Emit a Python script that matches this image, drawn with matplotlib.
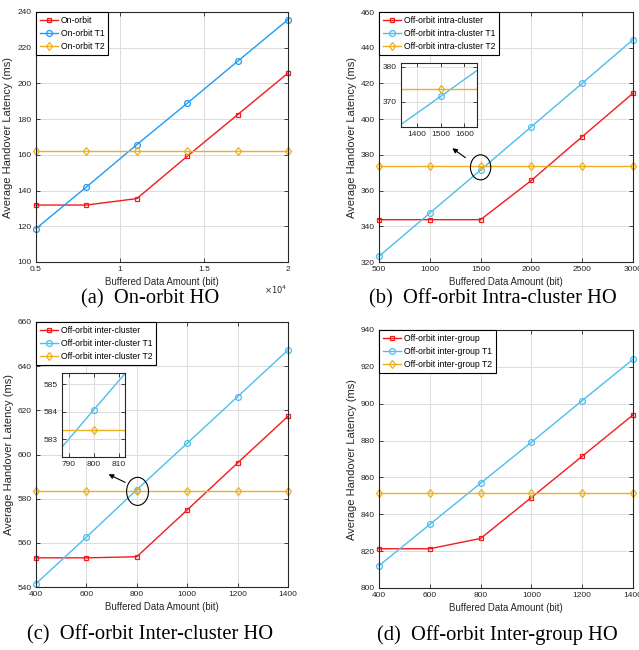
import matplotlib.pyplot as plt
from matplotlib.patches import Ellipse

plt.rcParams['font.family'] = ['Liberation Sans', 'DejaVu Sans']
plt.rcParams['axes.linewidth'] = 0.8

# ---- data ----
x_a = [5000, 8000, 11000, 14000, 17000, 20000]
on_orbit = [131.9, 131.9, 135.5, 159.2, 182.5, 205.8]
on_orbit_t1 = [118.7, 142.0, 165.7, 188.9, 212.4, 235.7]
on_orbit_t2 = [161.9] * 6

x_b = [500, 1000, 1500, 2000, 2500, 3000]
intra = [343.7, 343.7, 343.7, 365.7, 390.2, 414.5]
intra_t1 = [323.2, 347.4, 371.5, 395.8, 420.1, 444.5]
intra_t2 = [373.7] * 6

x_c = [400, 600, 800, 1000, 1200, 1400]
inter_cluster = [553.2, 553.2, 553.7, 574.9, 596.2, 617.3]
inter_cluster_t1 = [541.5, 562.6, 584.06, 605.1, 626.2, 647.3]
inter_cluster_t2 = [583.34] * 6

x_d = [400, 600, 800, 1000, 1200, 1400]
inter_group = [821.3, 821.3, 826.9, 849.1, 871.5, 893.9]
inter_group_t1 = [812.1, 834.5, 856.9, 879.1, 901.7, 924.1]
inter_group_t2 = [851.3] * 6

RED = '#f51a1a'
BLUE_A = '#1e9cf5'
BLUE = '#4dbeee'
YEL = '#edb120'
W, H = 639, 650
TICK_FS = 6.0


def px_axes(fig, left, top, right, bottom):
    return fig.add_axes([left / W, 1 - bottom / H, (right - left) / W, (bottom - top) / H])


def style(ax):
    ax.grid(True, color='#dcdcdc', linewidth=0.7)
    ax.set_axisbelow(True)
    ax.tick_params(direction='in', top=True, right=True, labelsize=TICK_FS,
                   colors='#262626', length=3, width=0.6, pad=3)
    for s in ax.spines.values():
        s.set_color('#262626')


def series(ax, x, y, color, marker, label=None, clip=True):
    ms = {'s': 3.4, 'o': 4.2, 'd': 4.4}[marker]
    ax.plot(x, y, color=color, marker=marker, ms=ms, mfc='none', mew=0.9, lw=1.0,
            label=label, clip_on=clip)


def draw(ax, x, ys, labels, blue):
    series(ax, x, ys[0], RED, 's', labels[0], clip=False)
    series(ax, x, ys[1], blue, 'o', labels[1], clip=False)
    series(ax, x, ys[2], YEL, 'd', labels[2], clip=False)
    leg = ax.legend(loc='upper left', fontsize=6.2, fancybox=False, framealpha=1,
                    edgecolor='black', borderaxespad=0, handlelength=2.1,
                    borderpad=0.45, labelspacing=0.45, handletextpad=0.3)
    leg.get_frame().set_linewidth(0.8)
    ax.set_xlabel('Buffered Data Amount (bit)', fontsize=6.9, color='#262626', labelpad=3)
    ax.set_ylabel('Average Handover Latency (ms)', fontsize=8.0, color='#262626', labelpad=3)


fig = plt.figure(figsize=(6.39, 6.5), dpi=100)

# (a)
ax = px_axes(fig, 36, 12, 288, 262)
draw(ax, x_a, [on_orbit, on_orbit_t1, on_orbit_t2], ['On-orbit', 'On-orbit T1', 'On-orbit T2'], BLUE_A)
ax.set_xlim(5000, 20000)
ax.set_ylim(100, 240)
ax.set_xticks([5000, 10000, 15000, 20000])
ax.set_xticklabels(['0.5', '1', '1.5', '2'])
ax.set_yticks(range(100, 241, 20))
style(ax)
ax.text(0.995, -0.085, r'$\times10^4$', transform=ax.transAxes, ha='right', va='top',
        fontsize=6.0, color='#262626')

# (b)
ax = px_axes(fig, 379, 12, 633, 262)
draw(ax, x_b, [intra, intra_t1, intra_t2],
     ['Off-orbit intra-cluster', 'Off-orbit intra-cluster T1', 'Off-orbit intra-cluster T2'], BLUE)
ax.set_xlim(500, 3000)
ax.set_ylim(320, 460)
ax.set_yticks(range(320, 461, 20))
style(ax)
ax.add_patch(Ellipse((1500, 373), 200, 14, fill=False, ec='black', lw=0.8, zorder=5))
ax.annotate('', xy=(1199, 384.6), xytext=(1373, 377.5),
            arrowprops=dict(arrowstyle='-|>', color='black', lw=0.8, mutation_scale=7))
ins = px_axes(fig, 401, 63, 477, 127)
series(ins, x_b, intra_t1, BLUE, 'o')
series(ins, x_b, intra_t2, YEL, 'd')
ins.set_xlim(1333, 1653)
ins.set_ylim(362.7, 381.1)
ins.set_xticks([1400, 1500, 1600])
ins.set_yticks([370, 380])
style(ins)

# (c)
ax = px_axes(fig, 36, 322, 288, 587)
draw(ax, x_c, [inter_cluster, inter_cluster_t1, inter_cluster_t2],
     ['Off-orbit inter-cluster', 'Off-orbit inter-cluster T1', 'Off-orbit inter-cluster T2'], BLUE)
ax.set_xlim(400, 1400)
ax.set_ylim(540, 660)
ax.set_yticks(range(540, 661, 20))
style(ax)
ax.add_patch(Ellipse((803, 583.3), 87, 12.7, fill=False, ec='black', lw=0.8, zorder=5))
ax.annotate('', xy=(678, 591.6), xytext=(764, 586.8),
            arrowprops=dict(arrowstyle='-|>', color='black', lw=0.8, mutation_scale=7))
ins = px_axes(fig, 62, 373, 125, 457)
series(ins, x_c, inter_cluster_t1, BLUE, 'o')
series(ins, x_c, inter_cluster_t2, YEL, 'd')
ins.set_xlim(787.4, 812.5)
ins.set_ylim(582.35, 585.4)
ins.set_xticks([790, 800, 810])
ins.set_yticks([583, 584, 585])
style(ins)

# (d)
ax = px_axes(fig, 379, 330, 633, 588)
draw(ax, x_d, [inter_group, inter_group_t1, inter_group_t2],
     ['Off-orbit inter-group', 'Off-orbit inter-group T1', 'Off-orbit inter-group T2'], BLUE)
ax.set_xlim(400, 1400)
ax.set_ylim(800, 940)
ax.set_yticks(range(800, 941, 20))
style(ax)

# captions
cap = dict(fontsize=14.8, family=['Liberation Serif', 'DejaVu Serif'], ha='center', va='center')
fig.text(150 / W, 1 - 299 / H, '(a)  On-orbit HO', **cap)
fig.text(493 / W, 1 - 299 / H, '(b)  Off-orbit Intra-cluster HO', **cap)
fig.text(150 / W, 1 - 635 / H, '(c)  Off-orbit Inter-cluster HO', **cap)
fig.text(497 / W, 1 - 635 / H, '(d)  Off-orbit Inter-group HO', **cap)

fig.savefig('out.png', dpi=100)
